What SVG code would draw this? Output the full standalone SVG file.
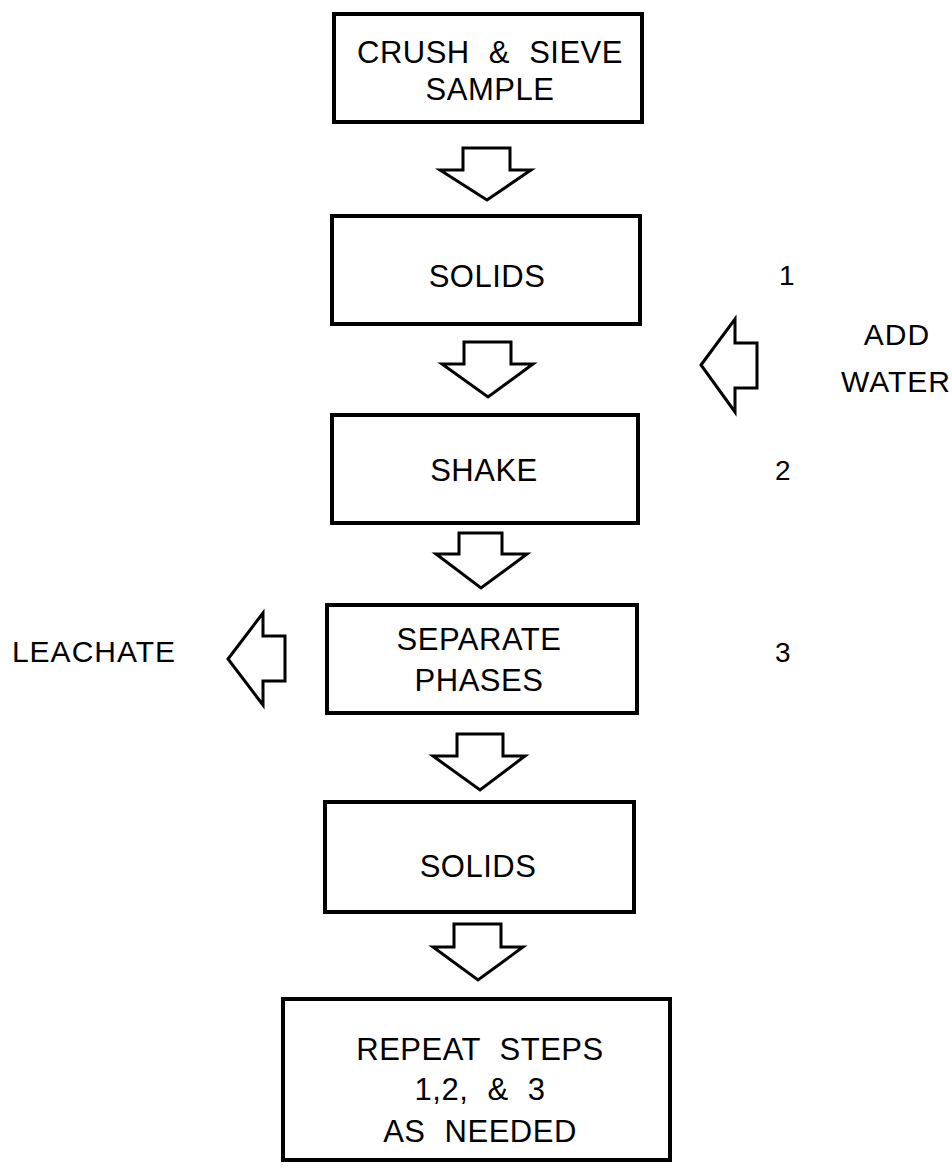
<svg xmlns="http://www.w3.org/2000/svg" width="952" height="1171" viewBox="0 0 952 1171">
<style>
.box{fill:#fff;stroke:#000;stroke-width:4}
.arr{fill:#fff;stroke:#000;stroke-width:3;stroke-linejoin:miter}
text{font-family:"Liberation Sans",Arial,sans-serif;font-size:31px;fill:#000;text-anchor:middle;letter-spacing:0.5px;word-spacing:10px}
.num{font-size:28px}
.side{font-size:30px;letter-spacing:1px}
</style>
<rect width="952" height="1171" fill="#fff"/>
<g id="connectors">
<polygon class="arr" points="463,148 510,148 510,170 531,170 487,200 440,170 463,170"/>
<polygon class="arr" points="464,342 511,342 511,364 533,364 488,397 442,364 464,364"/>
<polygon class="arr" points="459,533 502,533 502,554 527,554 481,588 436,554 459,554"/>
<polygon class="arr" points="457,734 503,734 503,756 525,756 480,790 433,756 457,756"/>
<polygon class="arr" points="454,924 501,924 501,947 523,947 478,980 433,947 454,947"/>
<polygon class="arr" points="701,365 735,319 735,343 757,343 757,388 735,388 735,412"/>
<polygon class="arr" points="228,659 263,613 263,636 285,636 285,681 263,681 263,705"/>
</g>
<g id="crush">
<rect class="box" x="334" y="14" width="308" height="108"/>
<text x="490" y="63">CRUSH &amp; SIEVE</text>
<text x="490" y="100">SAMPLE</text>
</g>
<g id="solids1">
<rect class="box" x="332" y="216" width="308" height="108"/>
<text x="487" y="287">SOLIDS</text>
</g>
<g id="shake">
<rect class="box" x="332" y="415" width="306" height="108"/>
<text x="484" y="481">SHAKE</text>
</g>
<g id="separate">
<rect class="box" x="327" y="605" width="310" height="108"/>
<text x="479" y="650">SEPARATE</text>
<text x="479" y="691">PHASES</text>
</g>
<g id="solids2">
<rect class="box" x="325" y="802" width="309" height="110"/>
<text x="478" y="877">SOLIDS</text>
</g>
<g id="repeat">
<rect class="box" x="283" y="999" width="387" height="161"/>
<text x="480" y="1060">REPEAT STEPS</text>
<text x="480" y="1100">1,2, &amp; 3</text>
<text x="480" y="1142">AS NEEDED</text>
</g>
<g id="labels">
<text class="num" x="787" y="285">1</text>
<text class="num" x="783" y="480">2</text>
<text class="num" x="783" y="662">3</text>
<text class="side" x="897" y="345">ADD</text>
<text class="side" x="896" y="392">WATER</text>
<text class="side" x="94" y="662">LEACHATE</text>
</g>
</svg>
